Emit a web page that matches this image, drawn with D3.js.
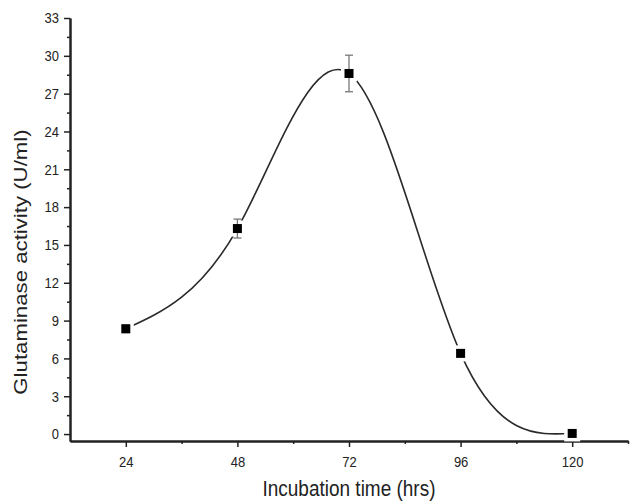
<!DOCTYPE html>
<html>
<head>
<meta charset="utf-8">
<script src="https://cdn.jsdelivr.net/npm/d3@7"></script>
<style>
  body { margin: 0; background: #fff; }
  text { font-family: "Liberation Sans", Arial, sans-serif; fill: #222; }
</style>
</head>
<body>
<svg id="chart" width="636" height="501"></svg>
<script>
// Incubation time (hrs) vs glutaminase activity (U/ml)
var hours = [24, 48, 72, 96, 120];
var activity = [8.35, 16.3, 28.6, 6.4, 0.05];
var errors = [0.3, 0.75, 1.45, 0.25, 0.1];
var xTicks = [24, 48, 72, 96, 120];
var yTicks = [0, 3, 6, 9, 12, 15, 18, 21, 24, 27, 30, 33];

var svg = d3.select("#chart");
var stretch = 1.17; // the original's lettering is a bit taller than wide

var x = d3.scaleLinear().domain([12, 132]).range([70, 628]);
var y = d3.scaleLinear().domain([-0.55, 33]).range([441, 18]);

var data = hours.map(function(h, i) { return {h: h, v: activity[i], e: errors[i]}; });

// axes
var xAxis = svg.append("g").attr("transform", "translate(0," + y(-0.55) + ")");
xAxis.call(d3.axisBottom(x).tickValues(xTicks).tickSize(6).tickSizeOuter(0).tickPadding(7));
xAxis.append("g").call(d3.axisBottom(x).tickValues([36, 60, 84, 108, 132]).tickSize(3).tickSizeOuter(0).tickFormat(""));

var yAxis = svg.append("g").attr("transform", "translate(" + x(12) + ",0)");
yAxis.call(d3.axisLeft(y).tickValues(yTicks).tickSize(6).tickSizeOuter(0).tickPadding(5));
yAxis.append("g").call(d3.axisLeft(y).tickValues(d3.range(1.5, 33, 3)).tickSize(3).tickSizeOuter(0).tickFormat(""));

svg.selectAll(".domain").attr("stroke", "#222").attr("stroke-width", 2);
svg.selectAll(".tick line").attr("stroke", "#222").attr("stroke-width", 1.5);
svg.selectAll(".tick text")
  .style("font-size", "13px")
  .attr("fill", "#222")
  .attr("transform", "scale(1," + stretch + ")");

// smooth curve through the points
var line = d3.line()
  .x(function(d) { return x(d.h); })
  .y(function(d) { return y(d.v); })
  .curve(d3.curveNatural);

svg.append("path")
  .datum(data)
  .attr("d", line)
  .attr("fill", "none")
  .attr("stroke", "#2a2a2a")
  .attr("stroke-width", 1.6);

// white gap around markers
svg.selectAll(".gap").data(data).enter().append("rect")
  .attr("x", function(d) { return x(d.h) - 8; })
  .attr("y", function(d) { return y(d.v) - 8; })
  .attr("width", 16).attr("height", 16)
  .attr("fill", "#fff");

// error bars
var eb = svg.selectAll(".err").data(data).enter().append("g").attr("stroke", "#777").attr("stroke-width", 1.3);
eb.append("line")
  .attr("x1", function(d) { return x(d.h); }).attr("x2", function(d) { return x(d.h); })
  .attr("y1", function(d) { return y(d.v + d.e); }).attr("y2", function(d) { return y(d.v - d.e); });
eb.append("line")
  .attr("x1", function(d) { return x(d.h) - 4; }).attr("x2", function(d) { return x(d.h) + 4; })
  .attr("y1", function(d) { return y(d.v + d.e); }).attr("y2", function(d) { return y(d.v + d.e); });
eb.append("line")
  .attr("x1", function(d) { return x(d.h) - 4; }).attr("x2", function(d) { return x(d.h) + 4; })
  .attr("y1", function(d) { return y(d.v - d.e); }).attr("y2", function(d) { return y(d.v - d.e); });

// square markers
svg.selectAll(".pt").data(data).enter().append("rect")
  .attr("x", function(d) { return x(d.h) - 4.5; })
  .attr("y", function(d) { return y(d.v) - 4.5; })
  .attr("width", 9).attr("height", 9)
  .attr("fill", "#000");

// axis titles
svg.append("text")
  .attr("transform", "translate(" + x(72) + ",496) scale(1," + stretch + ")")
  .attr("text-anchor", "middle")
  .style("font-size", "19px")
  .text("Incubation time (hrs)");

svg.append("text")
  .attr("transform", "translate(27,262) rotate(-90) scale(" + stretch + ",1)")
  .attr("text-anchor", "middle")
  .style("font-size", "19px")
  .text("Glutaminase activity (U/ml)");
</script>
</body>
</html>
